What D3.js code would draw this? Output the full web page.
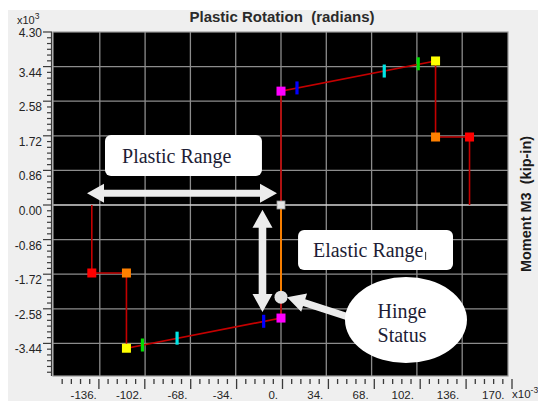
<!DOCTYPE html>
<html>
<head>
<meta charset="utf-8">
<script src="https://cdn.jsdelivr.net/npm/d3@7"></script>
<style>
  html, body { margin: 0; padding: 0; background: #ffffff; }
  svg { display: block; }
  text { white-space: pre; }
</style>
</head>
<body>
<svg id="chart" width="541" height="401"></svg>
<script>
// Hinge backbone curve: rotation (x10^-3 rad) and moment (x10^3 kip-in)
const backboneRotation = [-142, -142, -116, -116, 0, 0, 0, 116, 116, 141.5, 141.5];
const backboneMoment   = [0, -1.69, -1.69, -3.56, -2.81, 0, 2.83, 3.58, 1.69, 1.69, 0];

// Control points of the backbone (A = origin, B = yield, C = ultimate, D = residual, E = failure)
const pointKind     = ["E", "D", "C", "B", "A", "B", "C", "D", "E"];
const pointRotation = [-142, -116, -116, 0, 0, 0, 116, 116, 141.5];
const pointMoment   = [-1.69, -1.69, -3.56, -2.81, 0, 2.83, 3.58, 1.69, 1.69];

// Acceptance criteria marks on the hardening branches
const criteriaKind     = ["IO", "LS", "CP", "IO", "LS", "CP"];
const criteriaRotation = [12, 77.5, 103, -13, -78, -104];
const criteriaMoment   = [2.91, 3.33, 3.51, -2.89, -3.31, -3.48];

// Current hinge state
const hingeRotation = [0];
const hingeMoment   = [-2.29];

// Axis ticks
const xTickValues = [-136, -102, -68, -34, 0, 34, 68, 102, 136, 170];
const xTickLabels = ["-136.", "-102.", "-68.", "-34.", "0.", "34.", "68.", "102.", "136.", "170."];
const yTickValues = [4.30, 3.44, 2.58, 1.72, 0.86, 0, -0.86, -1.72, -2.58, -3.44];
const yTickLabels = ["4.30", "3.44", "2.58", "1.72", "0.86", "0.00", "-0.86", "-1.72", "-2.58", "-3.44"];
const xGridValues = [-136, -102, -68, -34, 0, 34, 68, 102, 136];
const yGridValues = [3.44, 2.58, 1.72, 0.86, 0, -0.86, -1.72, -2.58, -3.44];

// Callout anchors, in data units
const plasticArrow = { from: [-145.6, 0.29], to: [-3, 0.29] };
const elasticArrow = { from: [-13.9, -0.12], to: [-13.9, -2.66] };
const hingeArrow   = { from: [57.8, -2.86], to: [4.5, -2.29] };
const plasticBox   = { x0: -132.1, y0: 1.74, x1: -14.3, y1: 0.72, text: "Plastic Range", tx: -119.3, ty: 1.04 };
const elasticBox   = { x0: 12.8, y0: -0.62, x1: 129.1, y1: -1.616, text: "Elastic Range", tx: 24, ty: -1.29 };
const hingeBubble  = { cx: 93.8, cy: -2.86, lines: ["Hinge", "Status"], ty: [-2.81, -3.40] };

const kindColor = { A: "#e4e4e4", B: "#ff00ff", C: "#ffff00", D: "#ff8000", E: "#ff0000" };
const criteriaColor = { IO: "#0000ff", LS: "#00e5e5", CP: "#00dd00" };

const sans = "'Liberation Sans', Arial, sans-serif";
const serif = "'Liberation Serif', 'Times New Roman', serif";

const svg = d3.select("#chart");
const plot = { left: 53, right: 508, top: 32, bottom: 376 };

const x = d3.scaleLinear().domain([-170, 170]).range([54.5, 507.5]);
const xRuler = d3.scaleLinear().domain([-170, 170]).range([53, 512]);
const y = d3.scaleLinear().domain([-4.3, 4.3]).range([378, 32]);

// Panel background
svg.append("defs").append("clipPath").attr("id", "panelClip")
  .append("rect").attr("x", 8).attr("y", 10).attr("width", 530).attr("height", 391);
const panel = svg.append("g").attr("clip-path", "url(#panelClip)");
panel.append("rect").attr("x", 8).attr("y", 10).attr("width", 530).attr("height", 391).attr("fill", "#efefef");

// Title
panel.append("text")
  .attr("x", 282).attr("y", 21.5)
  .attr("text-anchor", "middle")
  .attr("font-family", sans).attr("font-size", 15).attr("font-weight", "bold")
  .attr("fill", "#2a2a2a")
  .text("Plastic Rotation  (radians)");

// Y axis title
panel.append("text")
  .attr("transform", "translate(531,204) rotate(-90)")
  .attr("text-anchor", "middle")
  .attr("font-family", sans).attr("font-size", 14.5).attr("font-weight", "bold")
  .attr("fill", "#1a1a1a")
  .text("Moment M3  (kip-in)");

// Plot area
panel.append("rect")
  .attr("x", plot.left).attr("y", plot.top)
  .attr("width", plot.right - plot.left).attr("height", plot.bottom - plot.top)
  .attr("fill", "#000000");

const grid = panel.append("g");
grid.selectAll("line.vx").data(xGridValues).join("line")
  .attr("x1", d => x(d)).attr("x2", d => x(d))
  .attr("y1", plot.top).attr("y2", plot.bottom)
  .attr("stroke", "#8c8c8c").attr("stroke-width", 1.3);
grid.selectAll("line.hy").data(yGridValues).join("line")
  .attr("x1", plot.left).attr("x2", plot.right)
  .attr("y1", d => y(d)).attr("y2", d => y(d))
  .attr("stroke", d => d === 0 ? "#d4d4d4" : "#8c8c8c")
  .attr("stroke-width", 1.3);

panel.append("rect")
  .attr("x", plot.left).attr("y", plot.top)
  .attr("width", plot.right - plot.left).attr("height", plot.bottom - plot.top)
  .attr("fill", "none").attr("stroke", "#9a9a9a").attr("stroke-width", 1.2);

// Bottom ruler: four minor ticks between labelled ticks
const xStep = 34 / 5;
const xRulerTicks = d3.range(-24, 26).map(i => ({ v: i * xStep, major: i % 5 === 0 }));
panel.append("g").selectAll("line").data(xRulerTicks).join("line")
  .attr("x1", d => xRuler(d.v)).attr("x2", d => xRuler(d.v))
  .attr("y1", 379).attr("y2", d => d.major ? 389 : 384)
  .attr("stroke", "#3a3a3a").attr("stroke-width", 1.3);

panel.append("g").selectAll("text").data(xTickValues).join("text")
  .attr("x", d => x(d) - 3).attr("y", 399)
  .attr("text-anchor", "end")
  .attr("font-family", sans).attr("font-size", 11.5)
  .attr("fill", "#242424")
  .text((d, i) => xTickLabels[i]);

const xExp = panel.append("text")
  .attr("x", 512).attr("y", 398)
  .attr("font-family", sans).attr("font-size", 11.5).attr("fill", "#242424");
xExp.append("tspan").text("x10");
xExp.append("tspan").attr("dy", -5).attr("font-size", 8.5).text("-3");

// Left ruler: five minor ticks between labelled ticks
const yStep = 0.86 / 6;
const yRulerTicks = d3.range(-30, 31)
  .map(i => ({ v: i * yStep, major: i % 6 === 0 }))
  .filter(d => y(d.v) <= plot.bottom + 0.5);
panel.append("line")
  .attr("x1", 51.5).attr("x2", 51.5).attr("y1", plot.top).attr("y2", plot.bottom)
  .attr("stroke", "#3a3a3a").attr("stroke-width", 1.2);
panel.append("g").selectAll("line").data(yRulerTicks).join("line")
  .attr("x1", d => d.major ? 43 : 47).attr("x2", 52)
  .attr("y1", d => y(d.v)).attr("y2", d => y(d.v))
  .attr("stroke", "#3a3a3a").attr("stroke-width", 1.2);

panel.append("g").selectAll("text").data(yTickValues).join("text")
  .attr("x", 42)
  .attr("y", d => d === y.domain()[1] ? y(d) + 5 : y(d) + 10)
  .attr("text-anchor", "end")
  .attr("font-family", sans).attr("font-size", 12)
  .attr("fill", "#242424")
  .text((d, i) => yTickLabels[i]);

const yExp = panel.append("text")
  .attr("x", 17).attr("y", 24)
  .attr("font-family", sans).attr("font-size", 11).attr("fill", "#242424");
yExp.append("tspan").text("x10");
yExp.append("tspan").attr("dy", -5).attr("font-size", 8.5).text("3");

// Backbone curve
const backbone = backboneRotation.map((r, i) => [r, backboneMoment[i]]);
const line = d3.line().x(d => x(d[0])).y(d => y(d[1]));
const plotG = panel.append("g");
plotG.append("path")
  .attr("d", line(backbone))
  .attr("fill", "none").attr("stroke", "#c40000").attr("stroke-width", 1.6);

// Current loading path from origin to the hinge state
plotG.append("path")
  .attr("d", line([[0, 0], [hingeRotation[0], hingeMoment[0]]]))
  .attr("fill", "none").attr("stroke", "#ff8c00").attr("stroke-width", 1.8);

// Acceptance criteria bars
plotG.selectAll("rect.crit").data(criteriaKind).join("rect")
  .attr("x", (d, i) => x(criteriaRotation[i]) - 1.6)
  .attr("y", (d, i) => y(criteriaMoment[i]) - 6.5)
  .attr("width", 3.2).attr("height", 13)
  .attr("fill", d => criteriaColor[d]);

// Control point squares
plotG.selectAll("rect.pt").data(pointKind).join("rect")
  .attr("x", (d, i) => x(pointRotation[i]) - (d === "A" ? 4 : 4.5))
  .attr("y", (d, i) => y(pointMoment[i]) - (d === "A" ? 4 : 4.5))
  .attr("width", d => d === "A" ? 8 : 9)
  .attr("height", d => d === "A" ? 8 : 9)
  .attr("fill", d => kindColor[d])
  .attr("stroke", d => d === "A" ? "#9a9a9a" : "none")
  .attr("stroke-width", 0.8);

// Hinge state marker
plotG.selectAll("circle.hinge").data(hingeRotation).join("circle")
  .attr("cx", d => x(d)).attr("cy", (d, i) => y(hingeMoment[i]))
  .attr("r", 6.5)
  .attr("fill", "#e2e2e2");

// Callouts
function blockArrow(from, to, doubleHead, shaftHalf, headHalf, headLen) {
  const x1 = x(from[0]), y1 = y(from[1]), x2 = x(to[0]), y2 = y(to[1]);
  const len = Math.hypot(x2 - x1, y2 - y1);
  const ux = (x2 - x1) / len, uy = (y2 - y1) / len;
  const nx = -uy, ny = ux;
  const p = (bx, by, s) => [bx + nx * s, by + ny * s];
  const bBx = x2 - ux * headLen, bBy = y2 - uy * headLen;
  const pts = [];
  if (doubleHead) {
    const bAx = x1 + ux * headLen, bAy = y1 + uy * headLen;
    pts.push([x1, y1], p(bAx, bAy, headHalf), p(bAx, bAy, shaftHalf),
             p(bBx, bBy, shaftHalf), p(bBx, bBy, headHalf), [x2, y2],
             p(bBx, bBy, -headHalf), p(bBx, bBy, -shaftHalf),
             p(bAx, bAy, -shaftHalf), p(bAx, bAy, -headHalf));
  } else {
    pts.push(p(x1, y1, shaftHalf), p(bBx, bBy, shaftHalf), p(bBx, bBy, headHalf), [x2, y2],
             p(bBx, bBy, -headHalf), p(bBx, bBy, -shaftHalf), p(x1, y1, -shaftHalf));
  }
  return "M" + pts.map(q => q[0].toFixed(2) + "," + q[1].toFixed(2)).join("L") + "Z";
}

const notes = panel.append("g");
notes.append("path").attr("d", blockArrow(plasticArrow.from, plasticArrow.to, true, 3.5, 9.5, 17)).attr("fill", "#ececec");
notes.append("path").attr("d", blockArrow(elasticArrow.from, elasticArrow.to, true, 3.8, 10, 18)).attr("fill", "#ececec");

function textBox(b) {
  const x0 = x(b.x0), x1 = x(b.x1), y0 = y(b.y0), y1 = y(b.y1);
  notes.append("rect")
    .attr("x", x0).attr("y", y0).attr("width", x1 - x0).attr("height", y1 - y0)
    .attr("rx", 6).attr("fill", "#ffffff");
  return notes.append("text")
    .attr("x", x(b.tx)).attr("y", y(b.ty))
    .attr("font-family", serif).attr("font-size", 20).attr("fill", "#1d1d35")
    .text(b.text);
}
textBox(plasticBox);
const elasticText = textBox(elasticBox);

// Text caret right after the elastic label
const caretX = elasticText.node().getBBox().x + elasticText.node().getBBox().width + 2;
notes.append("line")
  .attr("x1", caretX).attr("x2", caretX)
  .attr("y1", y(elasticBox.ty) - 5).attr("y2", y(elasticBox.ty) + 3)
  .attr("stroke", "#333").attr("stroke-width", 1);

notes.append("path").attr("d", blockArrow(hingeArrow.from, hingeArrow.to, false, 3.6, 9.5, 18)).attr("fill", "#ececec");

notes.append("ellipse")
  .attr("cx", x(hingeBubble.cx)).attr("cy", y(hingeBubble.cy))
  .attr("rx", 61).attr("ry", 43)
  .attr("fill", "#ffffff");
notes.selectAll("text.bubble").data(hingeBubble.lines).join("text")
  .attr("x", x(hingeBubble.cx) - 4)
  .attr("y", (d, i) => y(hingeBubble.ty[i]))
  .attr("text-anchor", "middle")
  .attr("font-family", serif).attr("font-size", 20).attr("fill", "#1d1d35")
  .text(d => d);
</script>
</body>
</html>
